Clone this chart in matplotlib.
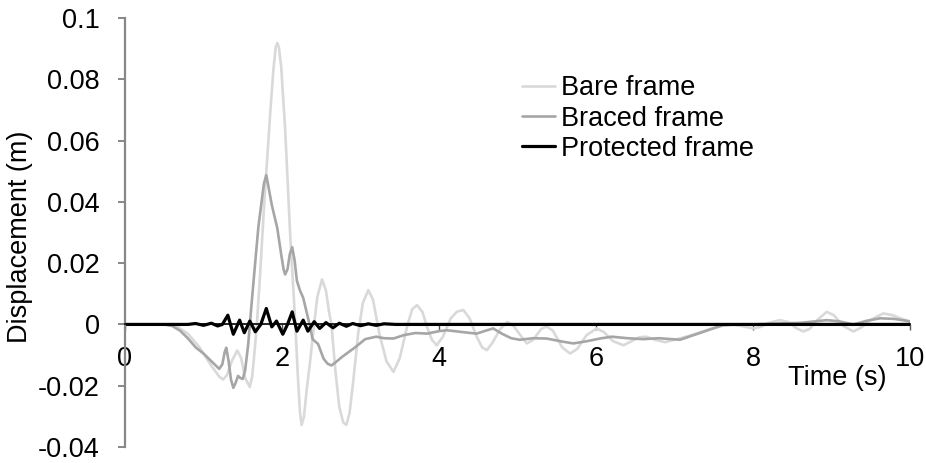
import matplotlib
matplotlib.use("Agg")
import matplotlib.pyplot as plt


# ============================================================
# DATA
# ============================================================

bare_t = [0.0, 0.5, 0.65, 0.8, 0.95, 1.1, 1.2, 1.25, 1.3, 1.36, 1.43, 1.48,
          1.53, 1.59, 1.62, 1.65, 1.68, 1.72, 1.78, 1.85, 1.89, 1.92, 1.94,
          1.96, 1.99, 2.04, 2.10, 2.17, 2.20, 2.23, 2.25, 2.28, 2.32, 2.36,
          2.40, 2.45, 2.51, 2.56, 2.60, 2.63, 2.68, 2.73, 2.78, 2.82, 2.86,
          2.91, 2.97, 3.03, 3.10, 3.16, 3.24, 3.33, 3.42, 3.50, 3.60, 3.66,
          3.72, 3.79, 3.85, 3.91, 3.97, 4.05, 4.15, 4.23, 4.31, 4.39, 4.48,
          4.55, 4.61, 4.68, 4.78, 4.87, 4.95, 5.05, 5.12, 5.20, 5.30, 5.37,
          5.45, 5.57, 5.67, 5.76, 5.88, 6.01, 6.10, 6.22, 6.35, 6.45, 6.55,
          6.64, 6.75, 6.88, 7.0, 7.15, 7.3, 7.45, 7.6, 7.75, 7.9, 8.0, 8.1,
          8.2, 8.34, 8.45, 8.55, 8.64, 8.72, 8.82, 8.94, 9.03, 9.15, 9.28,
          9.38, 9.5, 9.66, 9.78, 9.9, 10.0]
bare_disp = [0.0, 0.0, -0.0005, -0.003, -0.0075, -0.0135, -0.017, -0.018,
             -0.0165, -0.012, -0.0085, -0.011, -0.0175, -0.0204, -0.017,
             -0.009, 0.0, 0.016, 0.0422, 0.069, 0.083, 0.0905, 0.0919, 0.0905,
             0.084, 0.0638, 0.0314, 0.0, -0.016, -0.029, -0.0328, -0.030,
             -0.020, -0.0117, -0.002, 0.009, 0.0147, 0.011, 0.004, 0.0,
             -0.015, -0.027, -0.032, -0.0328, -0.029, -0.018, -0.003, 0.007,
             0.0112, 0.008, -0.003, -0.012, -0.0155, -0.011, 0.0, 0.005,
             0.0063, 0.004, -0.001, -0.005, -0.0068, -0.004, 0.002, 0.0042,
             0.0047, 0.002, -0.004, -0.0075, -0.0084, -0.006, -0.0015, 0.0008,
             -0.0005, -0.004, -0.0062, -0.005, -0.0015, -0.0007, -0.002,
             -0.0075, -0.0095, -0.008, -0.0035, -0.0013, -0.0025, -0.0055,
             -0.0068, -0.0055, -0.0042, -0.004, -0.005, -0.0058, -0.005,
             -0.004, -0.0028, -0.0015, -0.0005, 0.0, -0.0008, -0.0013,
             -0.0008, 0.0005, 0.0014, 0.0008, -0.0012, -0.0023, -0.0015,
             0.0015, 0.0041, 0.003, -0.0005, -0.0023, -0.001, 0.0015, 0.0036,
             0.003, 0.0018, 0.0009]

braced_t = [0.0, 0.5, 0.6, 0.7, 0.8, 0.9, 1.0, 1.1, 1.2, 1.24, 1.27, 1.29,
            1.32, 1.35, 1.38, 1.41, 1.44, 1.47, 1.50, 1.53, 1.57, 1.61, 1.66,
            1.70, 1.74, 1.77, 1.80, 1.82, 1.87, 1.94, 1.99, 2.02, 2.04, 2.07,
            2.10, 2.13, 2.16, 2.19, 2.23, 2.27, 2.34, 2.39, 2.46, 2.53, 2.58,
            2.63, 2.70, 2.76, 2.85, 2.93, 3.06, 3.2, 3.3, 3.42, 3.55, 3.7,
            3.85, 4.0, 4.1, 4.3, 4.48, 4.6, 4.69, 4.8, 4.92, 5.03, 5.2, 5.37,
            5.55, 5.71, 5.88, 6.05, 6.2, 6.4, 6.6, 6.8, 7.07, 7.3, 7.62, 8.0,
            8.34, 8.6, 8.94, 9.1, 9.28, 9.45, 9.62, 9.8, 10.0]
braced_disp = [0.0, 0.0, -0.0005, -0.002, -0.0045, -0.0075, -0.0095, -0.012,
               -0.0145, -0.013, -0.009, -0.0076, -0.012, -0.018, -0.0207,
               -0.019, -0.0168, -0.0175, -0.0178, -0.015, -0.0064, 0.006,
               0.0206, 0.032, 0.040, 0.046, 0.0487, 0.046, 0.039, 0.0314,
               0.0228, 0.018, 0.0163, 0.018, 0.023, 0.0252, 0.021, 0.0142,
               0.011, 0.0087, 0.0012, -0.0048, -0.0064, -0.0112, -0.0128,
               -0.0134, -0.012, -0.0107, -0.009, -0.0075, -0.0048, -0.004,
               -0.0045, -0.0046, -0.0035, -0.0028, -0.003, -0.0022, -0.0019,
               -0.0025, -0.003, -0.002, -0.0013, -0.003, -0.0045, -0.005,
               -0.0045, -0.0046, -0.0055, -0.0062, -0.0055, -0.0046, -0.004,
               -0.0045, -0.0048, -0.0045, -0.005, -0.003, -0.0002, 0.0, 0.0003,
               0.0005, 0.0014, 0.001, 0.0, 0.0012, 0.002, 0.0018, 0.001]

protected_t = [0.0, 0.8, 0.9, 1.0, 1.1, 1.18, 1.24, 1.31, 1.38, 1.46, 1.52,
               1.59, 1.66, 1.73, 1.80, 1.87, 1.93, 2.01, 2.07, 2.13, 2.19,
               2.27, 2.33, 2.41, 2.48, 2.56, 2.65, 2.73, 2.82, 2.9, 3.0, 3.1,
               3.2, 3.3, 3.45, 10.0]
protected_disp = [0.0, 0.0, 0.0003, -0.0003, 0.0004, -0.0005, 0.0, 0.003,
                  -0.0032, 0.0014, -0.0027, 0.0011, -0.0024, 0.0, 0.0052,
                  -0.0008, 0.0011, -0.0032, 0.0, 0.0041, -0.0022, 0.0014,
                  -0.0022, 0.0009, -0.0013, 0.0006, -0.0011, 0.0004, -0.0006,
                  0.0003, -0.0004, 0.0002, -0.0003, 0.0002, 0.0, 0.0]

x_ticks = [0, 2, 4, 6, 8, 10]
y_ticks = [-0.04, -0.02, 0, 0.02, 0.04, 0.06, 0.08, 0.1]
y_tick_labels = ["-0.04", "-0.02", "0", "0.02", "0.04", "0.06", "0.08", "0.1"]


# ============================================================
# PLOT
# ============================================================

FONT_SIZE = 19.5
plt.rcParams["font.family"] = ["Liberation Sans", "DejaVu Sans"]
plt.rcParams["font.size"] = FONT_SIZE

fig = plt.figure(figsize=(9.26, 4.63), dpi=100)
ax = fig.add_axes([125 / 926, 16 / 463, 785 / 926, 429 / 463])

line_style = dict(solid_joinstyle="round", solid_capstyle="round")
ax.plot(bare_t, bare_disp, color="#d9d9d9", linewidth=1.9,
        label="Bare frame", **line_style)
ax.plot(braced_t, braced_disp, color="#a6a6a6", linewidth=1.9,
        label="Braced frame", **line_style)
ax.plot(protected_t, protected_disp, color="black", linewidth=2.3,
        label="Protected frame", **line_style)

ax.set_xlim(0, 10)
ax.set_ylim(-0.04, 0.1)

ax.spines["top"].set_visible(False)
ax.spines["right"].set_visible(False)
ax.spines["bottom"].set_position(("data", 0))
ax.spines["bottom"].set_color("black")
ax.spines["bottom"].set_linewidth(1.2)
ax.spines["left"].set_color("#878787")
ax.spines["left"].set_linewidth(1.6)

ax.set_xticks(x_ticks)
ax.set_xticklabels([str(v) for v in x_ticks])
ax.set_yticks(y_ticks)
ax.set_yticklabels(y_tick_labels)

ax.tick_params(axis="x", direction="out", length=4.5, width=1.0,
               color="#555555", pad=11)
ax.tick_params(axis="y", direction="out", length=5, width=1.4,
               color="#878787", pad=13)

ax.set_xlabel("Time (s)")
ax.xaxis.set_label_coords(0.907, 0.19)

fig.text(20 / 926, 0.488, "Displacement (m)", rotation=90,
         ha="center", va="center")

ax.legend(loc="upper left", bbox_to_anchor=(0.506, 0.866), frameon=False,
          borderpad=0, borderaxespad=0, labelspacing=0.15,
          handlelength=1.22, handletextpad=0.2)

plt.savefig("out.png", dpi=100)
plt.close()
